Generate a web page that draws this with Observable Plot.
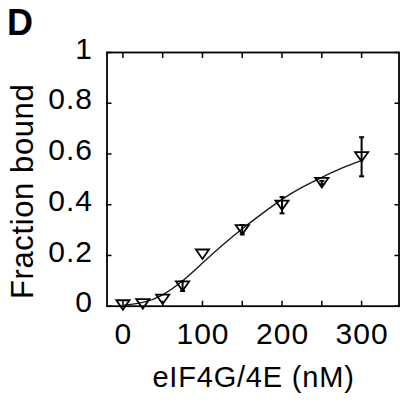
<!DOCTYPE html>
<html>
<head>
<meta charset="utf-8">
<script src="https://cdn.jsdelivr.net/npm/d3@7"></script>
<script src="https://cdn.jsdelivr.net/npm/@observablehq/plot@0.6"></script>
<style>
  html, body { margin: 0; padding: 0; background: #fff; }
  #chart { width: 400px; height: 402px; }
  svg { font-family: "Liberation Sans", Arial, sans-serif; }
  g[aria-label="y-axis tick label"] text,
  g[aria-label="x-axis tick label"] text { letter-spacing: 1px; }
</style>
</head>
<body>
<div id="chart"></div>
<script>
// ---- data ----
const concX = [0, 25, 50, 75, 100, 150, 200, 250, 300];
const fracBound = [0.005, 0.009, 0.027, 0.079, 0.205, 0.301, 0.398, 0.487, 0.589];

const errX = [75, 150, 200, 250, 300];
const errLo = [0.060, 0.283, 0.366, 0.480, 0.512];
const errHi = [0.098, 0.320, 0.430, 0.494, 0.666];

const fitX = [0, 25, 50, 75, 100, 125, 150, 175, 200, 225, 250, 275, 300];
const fitY = [0.003, 0.015, 0.045, 0.100, 0.170, 0.240, 0.305, 0.365, 0.421, 0.468, 0.508, 0.544, 0.575];

const xTicksMinor = [0, 50, 100, 150, 200, 250, 300];
const xTicksMajor = [0, 100, 200, 300];
const yTicks = [0, 0.2, 0.4, 0.6, 0.8, 1];

const panelLabel = "D";
const xLabel = "eIF4G/4E (nM)";
const yLabel = "Fraction bound";

// ---- tables ----
const points = concX.map((x, i) => ({x, y: fracBound[i]}));
const errs = errX.map((x, i) => ({x, lo: errLo[i], hi: errHi[i]}));
const fit = fitX.map((x, i) => ({x, y: fitY[i]}));

// custom symbols
const downTriangle = {
  draw(context, size) {
    const r = Math.sqrt(size / Math.PI);
    const hw = r * 1.4, hh = r;
    context.moveTo(-hw, -hh);
    context.lineTo(hw, -hh);
    context.lineTo(0, hh);
    context.closePath();
  }
};
const hCap = {
  draw(context, size) {
    const r = Math.sqrt(size / Math.PI);
    context.moveTo(-r, 0);
    context.lineTo(r, 0);
  }
};

const chart = Plot.plot({
  width: 400,
  height: 402,
  marginLeft: 106.5,
  marginRight: 1.5,
  marginTop: 52,
  marginBottom: 96.3,
  style: {fontFamily: "'Liberation Sans', Arial, sans-serif", color: "#000", background: "#fff"},
  x: {domain: [-20, 347]},
  y: {domain: [0, 1]},
  marks: [
    Plot.frame({stroke: "#000", strokeWidth: 1.8}),
    // inward ticks
    Plot.axisY(yTicks, {anchor: "left", tickSize: -5, fill: "none", label: null, strokeWidth: 1.5}),
    Plot.axisY(yTicks, {anchor: "right", tickSize: -5, fill: "none", label: null, strokeWidth: 1.5}),
    Plot.axisX(xTicksMinor, {anchor: "bottom", tickSize: -5, fill: "none", label: null, strokeWidth: 1.5}),
    Plot.axisX(xTicksMinor, {anchor: "top", tickSize: -5, fill: "none", label: null, strokeWidth: 1.5}),
    // tick labels
    Plot.axisY(yTicks, {anchor: "left", tickSize: 0, tickPadding: 14, fontSize: 30, dy: -3.5, label: null, tickFormat: d => String(d)}),
    Plot.axisX(xTicksMajor, {anchor: "bottom", tickSize: 0, tickPadding: 16.5, fontSize: 30, dx: 0.5, label: null, tickFormat: d => String(d)}),
    // axis labels
    Plot.text([xLabel], {frameAnchor: "bottom", text: d => d, dy: 72, dx: 0.5, fontSize: 29, lineAnchor: "middle", textAnchor: "middle"}),
    Plot.text([yLabel], {frameAnchor: "left", text: d => d, dx: -84, dy: 12, rotate: -90, fontSize: 31, lineAnchor: "middle", textAnchor: "middle"}),
    Plot.text([panelLabel], {frameAnchor: "top-left", text: d => d, dx: -100, dy: -43, fontSize: 36, fontWeight: "bold", lineAnchor: "top", textAnchor: "start"}),
    // fit curve
    Plot.line(fit, {x: "x", y: "y", curve: "natural", stroke: "#1a1a1a", strokeWidth: 1.4}),
    // error bars
    Plot.ruleX(errs, {x: "x", y1: "lo", y2: "hi", stroke: "#000", strokeWidth: 2}),
    Plot.dot(errs, {x: "x", y: "lo", symbol: hCap, r: 2.5, stroke: "#000", strokeWidth: 2, fill: "none"}),
    Plot.dot(errs, {x: "x", y: "hi", symbol: hCap, r: 2.5, stroke: "#000", strokeWidth: 2, fill: "none"}),
    // data points
    Plot.dot(points, {x: "x", y: "y", symbol: downTriangle, r: 4.7, stroke: "#000", strokeWidth: 1.8, fill: "none"})
  ]
});
// slightly wider lettering for axis titles, matching the reference typeface width
d3.select(chart).selectAll("g[aria-label='text'] text").each(function() {
  const t = this.textContent;
  if (t === xLabel) this.setAttribute("letter-spacing", "0.8px");
  if (t === yLabel) this.setAttribute("letter-spacing", "0.6px");
});
document.getElementById("chart").appendChild(chart);
</script>
</body>
</html>
